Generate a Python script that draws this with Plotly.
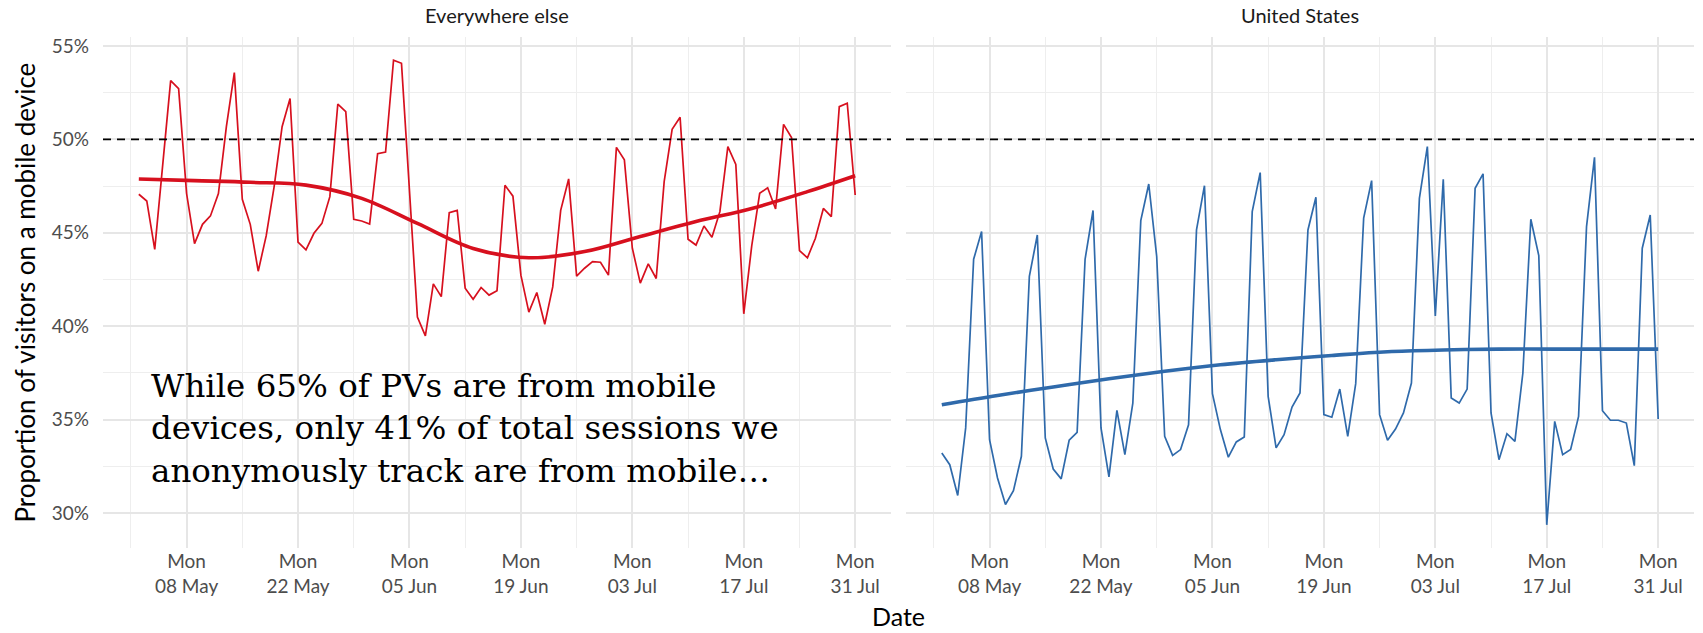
import pandas as pd
import plotly.graph_objects as go

# ---------------- data ----------------
start_date = "2017-05-02"
n_days = 91
dates = pd.date_range(start_date, periods=n_days, freq="D")

panel_titles = ["Everywhere else", "United States"]

everywhere_else = [
    47.06, 46.70, 44.11, 48.50, 53.14, 52.71, 47.10, 44.42, 45.45, 45.90,
    47.10, 50.68, 53.57, 46.79, 45.45, 42.94, 44.83, 47.47, 50.68, 52.19,
    44.50, 44.08, 44.97, 45.50, 46.93, 51.89, 51.48, 45.72, 45.63, 45.47,
    49.23, 49.32, 54.24, 54.07, 47.30, 40.48, 39.48, 42.26, 41.58, 46.08,
    46.20, 42.03, 41.44, 42.07, 41.66, 41.90, 47.54, 46.96, 42.73, 40.75,
    41.80, 40.10, 42.10, 46.20, 47.88, 42.68, 43.10, 43.45, 43.42, 42.73,
    49.57, 48.90, 44.17, 42.30, 43.33, 42.55, 47.74, 50.54, 51.18, 44.65,
    44.34, 45.36, 44.76, 46.13, 49.61, 48.66, 40.66, 44.30, 47.11, 47.41,
    46.27, 50.80, 50.10, 44.04, 43.66, 44.70, 46.30, 45.86, 51.75, 51.93,
    47.02,
]

united_states = [
    33.21, 32.58, 30.93, 34.55, 43.58, 45.06, 33.92, 31.87, 30.45, 31.19,
    33.03, 42.66, 44.88, 34.01, 32.35, 31.82, 33.89, 34.31, 43.58, 46.19,
    34.55, 31.93, 35.49, 33.12, 35.88, 45.65, 47.61, 43.73, 34.10, 33.08,
    33.39, 34.72, 45.15, 47.52, 36.38, 34.46, 32.98, 33.80, 34.06, 46.13,
    48.22, 36.24, 33.48, 34.19, 35.67, 36.42, 45.15, 46.90, 35.26, 35.12,
    36.63, 34.10, 36.92, 45.78, 47.79, 35.26, 33.89, 34.49, 35.35, 36.95,
    46.84, 49.61, 40.55, 47.86, 36.15, 35.88, 36.63, 47.38, 48.15, 35.35,
    32.85, 34.24, 33.83, 37.49, 45.72, 43.78, 29.36, 34.90, 33.12, 33.39,
    35.17, 45.33, 49.04, 35.47, 34.96, 34.96, 34.81, 32.53, 44.17, 45.95,
    35.03,
]

smooth_dates = [
    "2017-05-02", "2017-05-09", "2017-05-16", "2017-05-23", "2017-05-30",
    "2017-06-06", "2017-06-13", "2017-06-20", "2017-06-27", "2017-07-04",
    "2017-07-11", "2017-07-18", "2017-07-25", "2017-07-31",
]
everywhere_smooth = [47.88, 47.79, 47.70, 47.55, 46.84, 45.50, 44.16,
                     43.66, 43.99, 44.80, 45.60, 46.30, 47.20, 48.05]
us_smooth = [35.79, 36.29, 36.74, 37.18, 37.58, 37.93, 38.20,
             38.43, 38.63, 38.72, 38.77, 38.77, 38.77, 38.77]

reference_level = 50

tick_dates = ["2017-05-08", "2017-05-22", "2017-06-05", "2017-06-19",
              "2017-07-03", "2017-07-17", "2017-07-31"]
tick_labels = ["Mon<br>08 May", "Mon<br>22 May", "Mon<br>05 Jun", "Mon<br>19 Jun",
               "Mon<br>03 Jul", "Mon<br>17 Jul", "Mon<br>31 Jul"]
y_ticks = [30, 35, 40, 45, 50, 55]
y_tick_labels = ["30%", "35%", "40%", "45%", "50%", "55%"]

y_title = "Proportion of visitors on a mobile device"
x_title = "Date"
note_text = ("While 65% of PVs are from mobile<br>"
             "devices, only 41% of total sessions we<br>"
             "anonymously track are from mobile…")

# ---------------- styling ----------------
RED = "#d7101e"
BLUE = "#2f6aab"
SANS = "Lato, 'Open Sans', sans-serif"
SERIF = "'DejaVu Serif', serif"
GRID_MAJOR = "#e6e6e6"
GRID_MINOR = "#eeeeee"
TICK_SIZE = 19
x_range = ["2017-04-27 12:00", "2017-08-04 12:00"]
y_range = [28.12, 55.48]

fig = go.Figure()

series = [(everywhere_else, everywhere_smooth, RED, "x", "y"),
          (united_states, us_smooth, BLUE, "x2", "y2")]
for raw, smooth, color, xa, ya in series:
    fig.add_trace(go.Scatter(x=dates, y=raw, mode="lines",
                             line=dict(color=color, width=1.7),
                             xaxis=xa, yaxis=ya, showlegend=False,
                             hoverinfo="skip"))
    fig.add_trace(go.Scatter(x=pd.to_datetime(smooth_dates), y=smooth, mode="lines",
                             line=dict(color=color, width=3.6, shape="spline",
                                       smoothing=1.0),
                             xaxis=xa, yaxis=ya, showlegend=False,
                             hoverinfo="skip"))

for xa, ya in [("x", "y"), ("x2", "y2")]:
    fig.add_shape(type="line", xref=f"{xa} domain", yref=ya,
                  x0=0, x1=1, y0=reference_level, y1=reference_level,
                  line=dict(color="black", width=1.6, dash="8px,6px"),
                  layer="above")

xaxis_common = dict(
    type="date", range=x_range,
    tickmode="array", tickvals=tick_dates, ticktext=tick_labels,
    showgrid=True, gridcolor=GRID_MAJOR, gridwidth=2,
    minor=dict(showgrid=True, gridcolor=GRID_MINOR, gridwidth=1.2,
               tick0="2017-05-01", dtick=7 * 86400000),
    zeroline=False, showline=False, ticks="",
    tickfont=dict(family=SANS, size=TICK_SIZE, color="#4d4d4d"),
)
yaxis_common = dict(
    range=y_range, tickmode="array", tickvals=y_ticks, ticktext=y_tick_labels,
    showgrid=True, gridcolor=GRID_MAJOR, gridwidth=2,
    minor=dict(showgrid=True, gridcolor=GRID_MINOR, gridwidth=1.2,
               tick0=27.5, dtick=2.5),
    zeroline=False, showline=False, ticks="",
    tickfont=dict(family=SANS, size=TICK_SIZE, color="#4d4d4d"),
)

fig.update_layout(
    width=1703, height=633,
    margin=dict(l=103, r=9, t=37, b=85, autoexpand=False),
    paper_bgcolor="white", plot_bgcolor="white",
    showlegend=False,
    xaxis=dict(domain=[0, 0.4953], anchor="y", **xaxis_common),
    xaxis2=dict(domain=[0.5047, 1], anchor="y2", **xaxis_common),
    yaxis=dict(domain=[0, 1], anchor="x", ticklabelstandoff=13, **yaxis_common),
    yaxis2=dict(domain=[0, 1], anchor="x2", matches="y", showticklabels=False,
                **yaxis_common),
)

# facet titles
for i, title in enumerate(panel_titles):
    fig.add_annotation(text=title, xref="x domain" if i == 0 else "x2 domain",
                       yref="paper", x=0.5, y=1, yshift=22, yanchor="middle",
                       showarrow=False,
                       font=dict(family=SANS, size=20, color="#1a1a1a"))

# y-axis title (left of the tick labels)
fig.add_annotation(text=y_title, xref="paper", yref="paper", x=0, y=0.5,
                   xshift=-79, xanchor="center", yanchor="middle", textangle=-90,
                   showarrow=False,
                   font=dict(family=SANS, size=26, color="black"))

# shared x-axis title
fig.add_annotation(text=x_title, xref="paper", yref="paper", x=0.5, y=0,
                   yshift=-68, yanchor="middle", showarrow=False,
                   font=dict(family=SANS, size=25, color="black"))

# note text
fig.add_annotation(text=note_text, xref="x", yref="y",
                   x="2017-05-03 06:00", y=34.5, xanchor="left", yanchor="middle",
                   align="left", showarrow=False,
                   font=dict(family=SERIF, size=32.5, color="black"))

# remove the browser's default 8px page margin so the figure sits at (0, 0)
fig.write_html("out.html", config={"displayModeBar": False},
               post_script="document.body.style.margin='0';")
